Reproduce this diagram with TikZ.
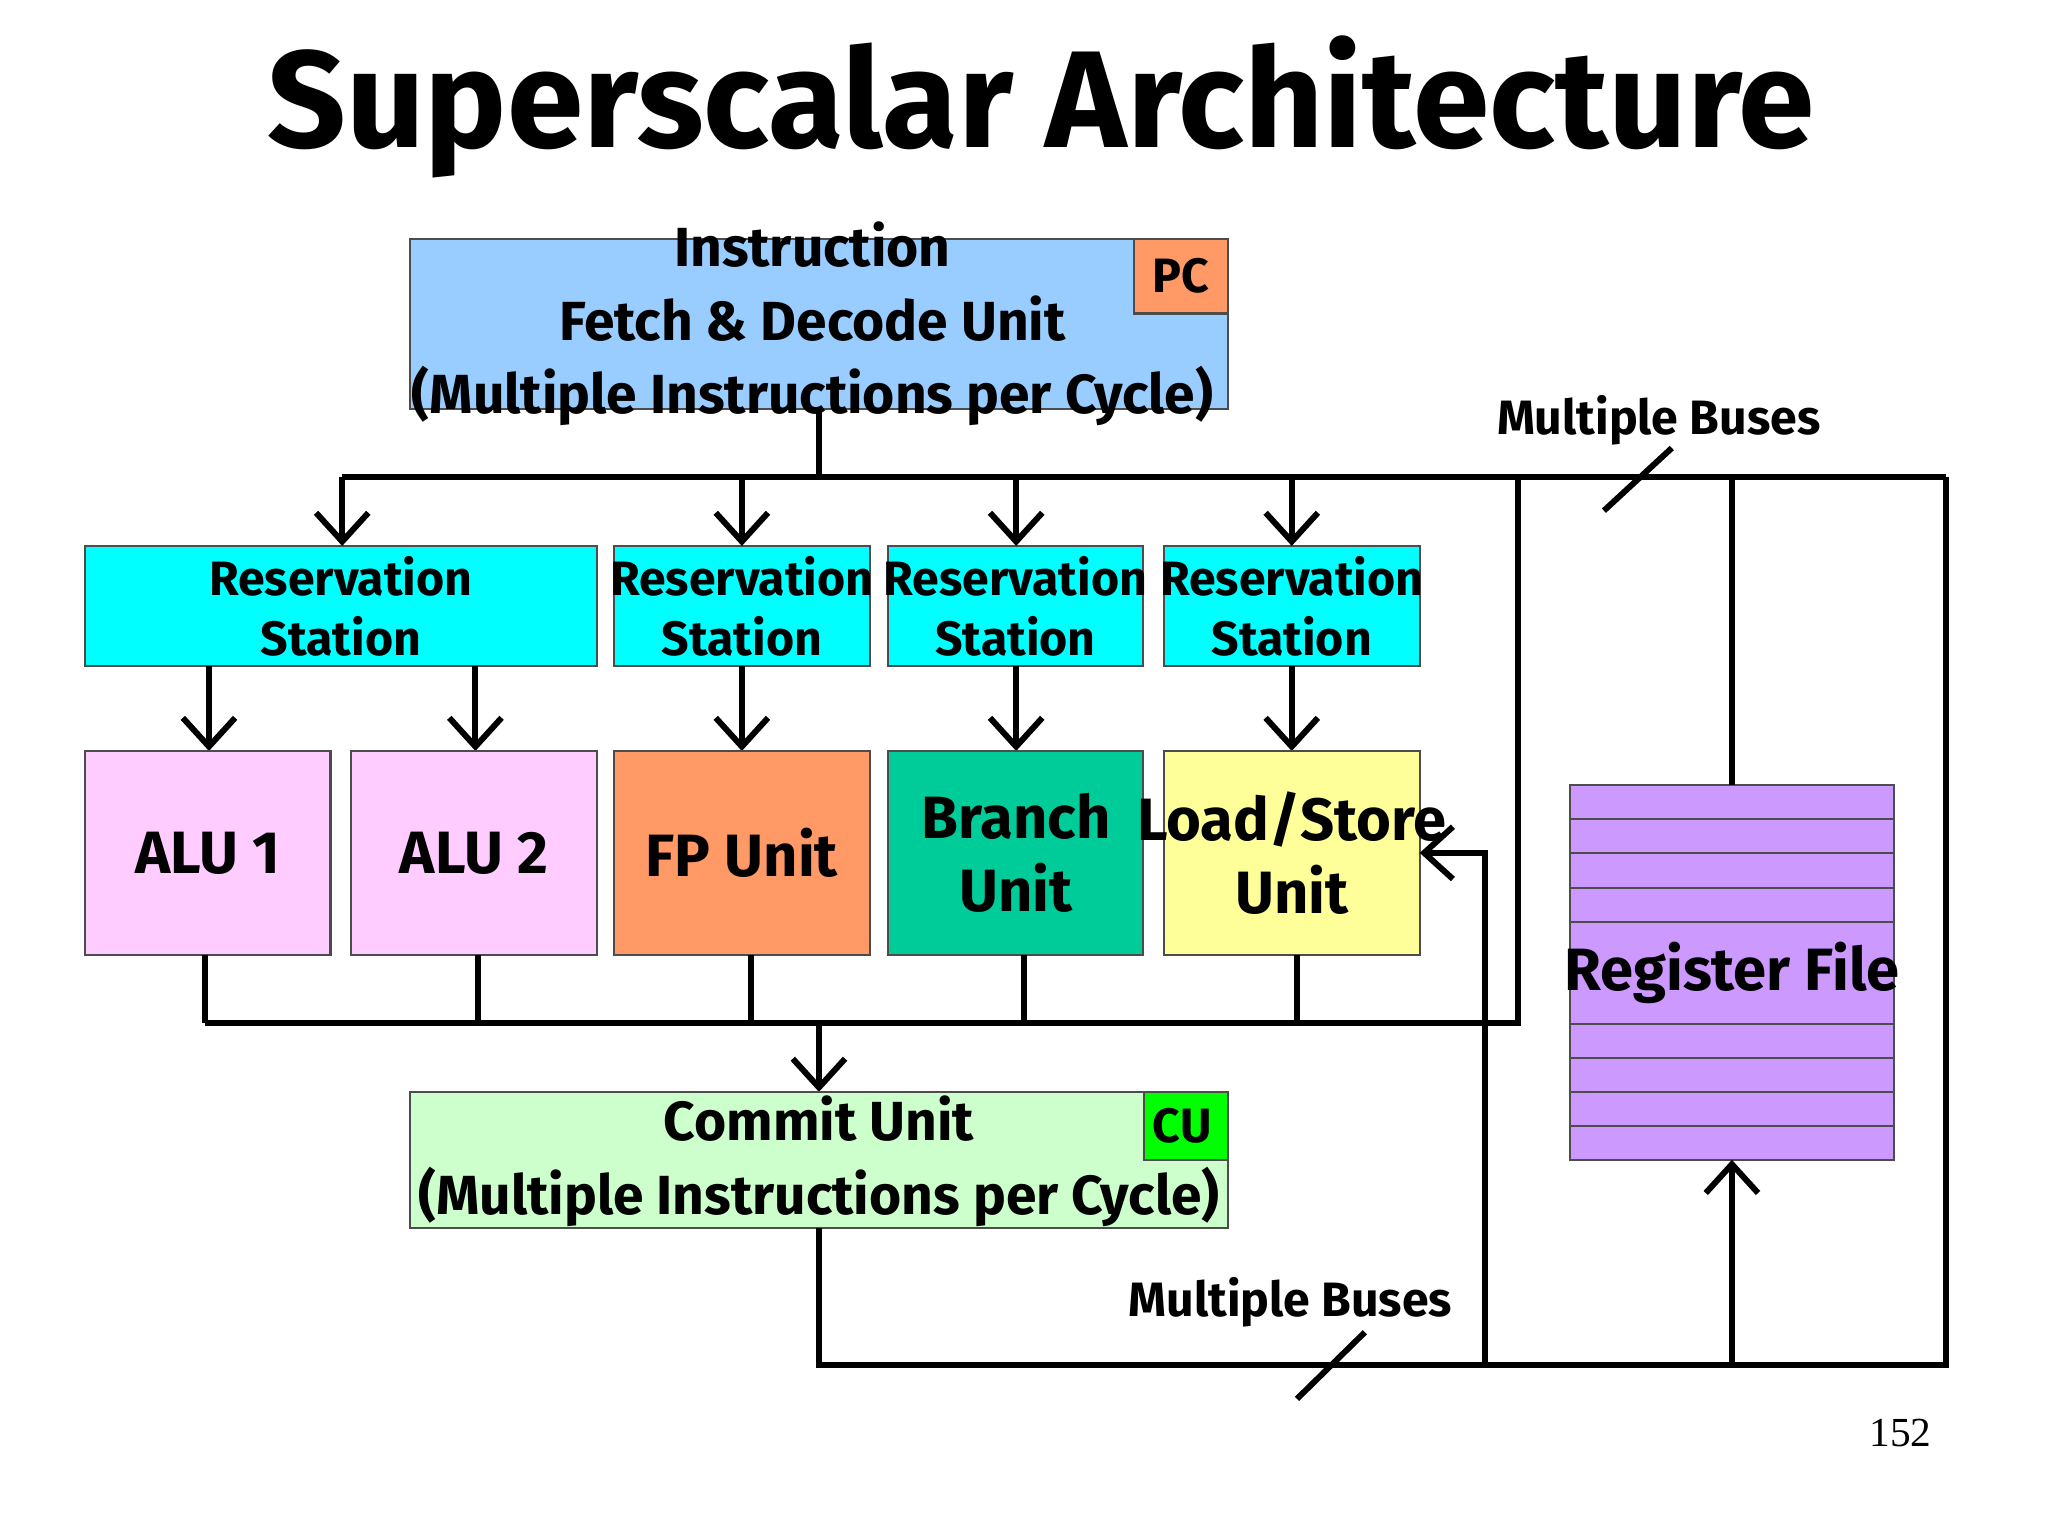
\documentclass[tikz,border=0pt]{standalone}
\usepackage{fontspec}
\setmainfont{Fira Sans}
\usetikzlibrary{arrows.meta}
\definecolor{ifblue}{RGB}{153,204,255}
\definecolor{pcorange}{RGB}{255,153,102}
\definecolor{rscyan}{RGB}{0,255,255}
\definecolor{alupink}{RGB}{255,204,255}
\definecolor{brgreen}{RGB}{0,204,153}
\definecolor{lsyellow}{RGB}{255,255,153}
\definecolor{cugreen}{RGB}{204,255,204}
\definecolor{rfpurple}{RGB}{204,153,255}
\begin{document}
\begin{tikzpicture}[x=0.01cm,y=-0.01cm,
  box/.style={draw=black!70,line width=0.5pt},
  txt/.style={font=\fontsize{10.5}{13}\selectfont\bfseries,align=center},
  bus/.style={line width=1.3pt},
  arr/.style={line width=1.3pt,-{Straight Barb[length=2.2mm,width=4mm,line width=1.3pt]}}]
\useasboundingbox (0,0) rectangle (1568,1176);
\node[font=\fontsize{30}{34}\selectfont\bfseries] (title) at (797,82) {Superscalar Architecture};
% fetch unit
\draw[box,fill=ifblue] (314,183) rectangle (940,313);
\draw[box,fill=pcorange] (868,183) rectangle (940,240);
\node[txt] (pc) at (904,211) {PC};
\node[txt,font=\fontsize{12}{16}\selectfont\bfseries] (ifu) at (622,248) {Instruction\\Fetch \& Decode Unit\\(Multiple Instructions per Cycle)};
\coordinate (ifb) at (627,313);
\coordinate (t1) at (627,365);
\draw[bus] (ifb) -- (t1);
\coordinate (tl) at (262,365); \coordinate (tr) at (1490,365);
\draw[bus] (tl) -- (tr);
% reservation stations
\foreach \a/\b/\n in {65/457/rs1,470/666/rs2,680/875/rs3,891/1087/rs4}{
  \draw[box,fill=rscyan] (\a,418) rectangle (\b,510);
  \node[txt] (\n) at ({(\a+\b)/2},464) {Reservation\\Station};
}
\foreach \x in {262,568,778,989}{ \draw[arr] (\x,365) -- (\x,418); }
\foreach \x in {160,364,568,778,989}{ \draw[arr] (\x,510) -- (\x,575); }
% functional units
\draw[box,fill=alupink] (65,575) rectangle (253,731);
\node[txt,font=\fontsize{13}{16}\selectfont\bfseries] (alu1) at (159,653) {ALU 1};
\draw[box,fill=alupink] (269,575) rectangle (457,731);
\node[txt,font=\fontsize{13}{16}\selectfont\bfseries] (alu2) at (363,653) {ALU 2};
\draw[box,fill=pcorange] (470,575) rectangle (666,731);
\node[txt,font=\fontsize{13}{16}\selectfont\bfseries] (fp) at (568,653) {FP Unit};
\draw[box,fill=brgreen] (680,575) rectangle (875,731);
\node[txt,font=\fontsize{13}{16}\selectfont\bfseries] (br) at (778,653) {Branch\\Unit};
\draw[box,fill=lsyellow] (891,575) rectangle (1087,731);
\node[txt,font=\fontsize{13}{16}\selectfont\bfseries] (ls) at (989,653) {Load/Store\\Unit};
\foreach \x in {157,366,575,784,993}{ \draw[bus] (\x,731) -- (\x,783); }
\draw[bus] (157,783) -- (1162,783) -- (1162,365);
\draw[arr] (627,783) -- (627,836);
% commit unit
\draw[box,fill=cugreen] (314,836) rectangle (940,940);
\draw[box,fill=green] (876,836) rectangle (940,888);
\node[txt] (cu) at (905,862) {CU};
\node[txt,font=\fontsize{12}{16}\selectfont\bfseries] (com) at (627,889) {Commit Unit\\(Multiple Instructions per Cycle)};
\draw[bus] (627,940) -- (627,1045) -- (1490,1045) -- (1490,365);
\draw[arr] (1137,1045) -- (1137,653) -- (1087,653);
% register file
\draw[box,fill=rfpurple] (1202,601) rectangle (1450,888);
\foreach \y in {627,653,680,706,784,810,836,862}{ \draw[black!70,line width=0.5pt] (1202,\y) -- (1450,\y); }
\node[txt,font=\fontsize{13}{16}\selectfont\bfseries] (rf) at (1326,745) {Register File};
\draw[bus] (1326,601) -- (1326,365);
\draw[arr] (1326,1045) -- (1326,888);
% bus labels
\draw[bus] (1228,391) -- (1280,343);
\draw[bus] (993,1071) -- (1045,1020);
\node[txt] (mb1) at (1270,322) {Multiple Buses};
\node[txt] (mb2) at (988,997) {Multiple Buses};
\node[font=\fontsize{9}{11}\selectfont\rmfamily] (pg) at (1455,1097) {\fontspec{Liberation Serif}152};
\end{tikzpicture}
\end{document}
